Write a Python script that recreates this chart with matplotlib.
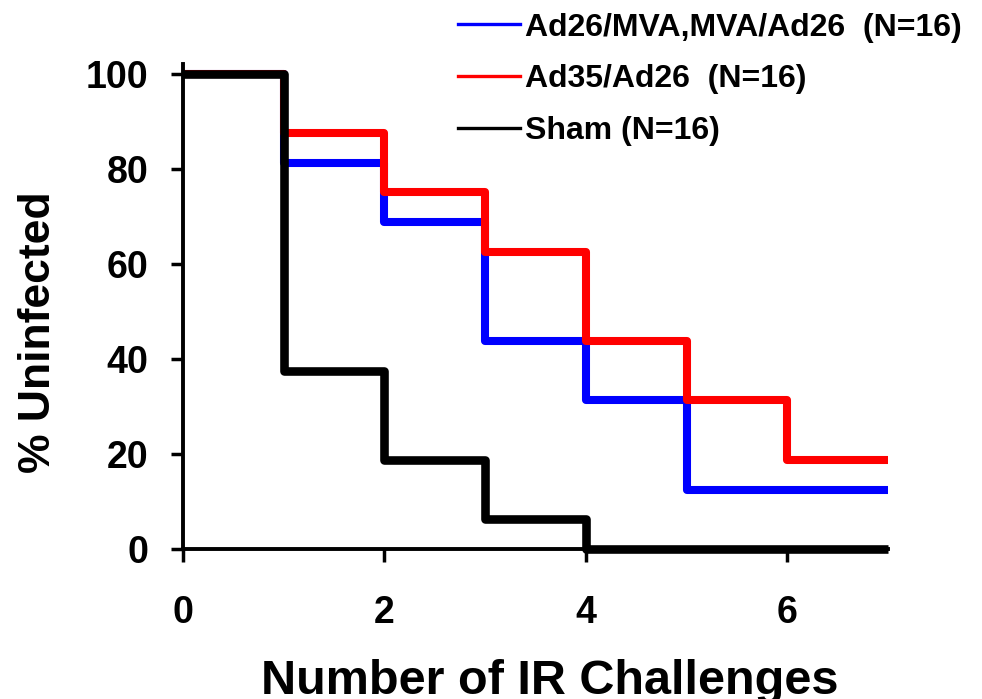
import matplotlib
matplotlib.use('Agg')
import matplotlib.pyplot as plt

plt.rcParams['font.family'] = ['Liberation Sans', 'DejaVu Sans']
plt.rcParams['font.weight'] = 'bold'

# Kaplan-Meier style step data (% uninfected after each challenge)
challenges = [0, 1, 2, 3, 4, 5, 6, 7]
ad26_mva = [100, 81.25, 68.75, 43.75, 31.25, 12.5, 12.5, 12.5]
ad35_ad26 = [100, 87.5, 75, 62.5, 43.75, 31.25, 18.75, 18.75]
sham = [100, 37.5, 18.75, 6.25, 0, 0, 0, 0]

labels = ["Ad26/MVA,MVA/Ad26  (N=16)", "Ad35/Ad26  (N=16)", "Sham (N=16)"]
colors = ["#0000ff", "#ff0000", "#000000"]

fig = plt.figure(figsize=(9.82, 6.99), dpi=100)
ax = fig.add_axes([183 / 982, 1 - 549 / 699, 705 / 982, 485 / 699])

lines = []
for ys, c, lw in zip([ad26_mva, ad35_ad26, sham], colors, [5.8, 5.8, 6.2]):
    ln, = ax.step(challenges, ys, where="post", color=c, lw=lw,
                  solid_joinstyle="round", solid_capstyle="butt", clip_on=False)
    lines.append(ln)

ax.set_xlim(0, 7)
ax.set_ylim(0, 102)
ax.set_xticks([0, 2, 4, 6])
ax.set_yticks([0, 20, 40, 60, 80, 100])
for side in ["top", "right"]:
    ax.spines[side].set_visible(False)
for side in ["left", "bottom"]:
    ax.spines[side].set_linewidth(2.8)
ax.tick_params(axis="both", direction="out", length=9, width=2.5, labelsize=27)
ax.tick_params(axis="x", pad=24)
ax.tick_params(axis="y", pad=16)

fig.text(550 / 982, 5 / 699, "Number of IR Challenges", fontsize=35,
         ha="center", va="baseline", fontweight="bold")
fig.text(39 / 982, 1 - 332 / 699, "% Uninfected", fontsize=32, rotation=90,
         ha="center", va="center", fontweight="bold")

handles = [plt.Line2D([], [], color=c, lw=2.4) for c in colors]
fig.legend(handles, labels, loc="upper left", bbox_to_anchor=(458 / 982, 0.982),
           frameon=False, fontsize=23, handlelength=1.95, handletextpad=0.15,
           labelspacing=0.68, borderpad=0, borderaxespad=0)

plt.savefig("out.png", dpi=100)
